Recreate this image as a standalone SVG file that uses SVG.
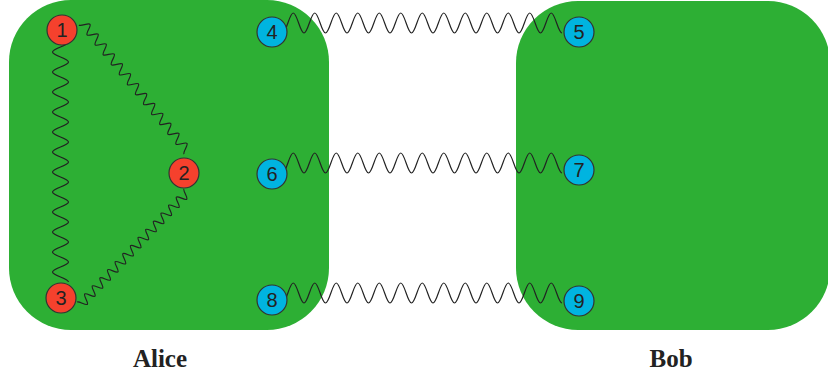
<svg xmlns="http://www.w3.org/2000/svg" width="828" height="374" viewBox="0 0 828 374">
<style>
.box{fill:#2daf34}
.wave{fill:none;stroke:#222;stroke-width:1.2}
.red{fill:#f5412d;stroke:#333;stroke-width:1.2}
.blue{fill:#00b4e0;stroke:#333;stroke-width:1.2}
.num{font-family:"Liberation Sans",Arial,sans-serif;font-size:20px;fill:#222;text-anchor:middle}
.lbl{font-family:"Liberation Serif","Times New Roman",serif;font-size:25px;font-weight:bold;fill:#222;text-anchor:middle}
</style>
<g id="alice">
<rect class="box" x="9" y="0" width="320" height="330" rx="62" ry="62"/>
<text class="lbl" x="160" y="367">Alice</text>
</g>
<g id="bob">
<rect class="box" x="516" y="1" width="314" height="329" rx="62" ry="62"/>
<text class="lbl" x="671" y="367">Bob</text>
</g>
<g id="connectors">
<path class="wave" d="M282.5 33 c3.87 0 6.88 -20 10.75 -20 s6.88 20 10.75 20 s6.88 -20 10.75 -20 s6.88 20 10.75 20 s6.88 -20 10.75 -20 s6.88 20 10.75 20 s6.88 -20 10.75 -20 s6.88 20 10.75 20 s6.88 -20 10.75 -20 s6.88 20 10.75 20 s6.88 -20 10.75 -20 s6.88 20 10.75 20 s6.88 -20 10.75 -20 s6.88 20 10.75 20 s6.88 -20 10.75 -20 s6.88 20 10.75 20 s6.88 -20 10.75 -20 s6.88 20 10.75 20 s6.88 -20 10.75 -20 s6.88 20 10.75 20 s6.88 -20 10.75 -20 s6.88 20 10.75 20 s6.88 -20 10.75 -20 s6.88 20 10.75 20 s6.88 -20 10.75 -20 s6.88 20 10.75 20"/>
<path class="wave" d="M282.5 173 c3.87 0 6.88 -20 10.75 -20 s6.88 20 10.75 20 s6.88 -20 10.75 -20 s6.88 20 10.75 20 s6.88 -20 10.75 -20 s6.88 20 10.75 20 s6.88 -20 10.75 -20 s6.88 20 10.75 20 s6.88 -20 10.75 -20 s6.88 20 10.75 20 s6.88 -20 10.75 -20 s6.88 20 10.75 20 s6.88 -20 10.75 -20 s6.88 20 10.75 20 s6.88 -20 10.75 -20 s6.88 20 10.75 20 s6.88 -20 10.75 -20 s6.88 20 10.75 20 s6.88 -20 10.75 -20 s6.88 20 10.75 20 s6.88 -20 10.75 -20 s6.88 20 10.75 20 s6.88 -20 10.75 -20 s6.88 20 10.75 20 s6.88 -20 10.75 -20 s6.88 20 10.75 20"/>
<path class="wave" d="M282.5 303 c3.87 0 6.88 -20 10.75 -20 s6.88 20 10.75 20 s6.88 -20 10.75 -20 s6.88 20 10.75 20 s6.88 -20 10.75 -20 s6.88 20 10.75 20 s6.88 -20 10.75 -20 s6.88 20 10.75 20 s6.88 -20 10.75 -20 s6.88 20 10.75 20 s6.88 -20 10.75 -20 s6.88 20 10.75 20 s6.88 -20 10.75 -20 s6.88 20 10.75 20 s6.88 -20 10.75 -20 s6.88 20 10.75 20 s6.88 -20 10.75 -20 s6.88 20 10.75 20 s6.88 -20 10.75 -20 s6.88 20 10.75 20 s6.88 -20 10.75 -20 s6.88 20 10.75 20 s6.88 -20 10.75 -20 s6.88 20 10.75 20 s6.88 -20 10.75 -20 s6.88 20 10.75 20"/>
<path class="wave" d="M68.5 42 c0 3.6 -16 6.4 -16 10 s16 6.4 16 10 s-16 6.4 -16 10 s16 6.4 16 10 s-16 6.4 -16 10 s16 6.4 16 10 s-16 6.4 -16 10 s16 6.4 16 10 s-16 6.4 -16 10 s16 6.4 16 10 s-16 6.4 -16 10 s16 6.4 16 10 s-16 6.4 -16 10 s16 6.4 16 10 s-16 6.4 -16 10 s16 6.4 16 10 s-16 6.4 -16 10 s16 6.4 16 10 s-16 6.4 -16 10 s16 6.4 16 10 s-16 6.4 -16 10 s16 6.4 16 10 s-16 6.4 -16 10 s16 6.4 16 10"/>
<path class="wave" transform="translate(79 25) rotate(50.86)" d="M0 0 c2.3 0 4.1 -9 6.4 -9 s4.1 9 6.4 9 s4.1 -9 6.4 -9 s4.1 9 6.4 9 s4.1 -9 6.4 -9 s4.1 9 6.4 9 s4.1 -9 6.4 -9 s4.1 9 6.4 9 s4.1 -9 6.4 -9 s4.1 9 6.4 9 s4.1 -9 6.4 -9 s4.1 9 6.4 9 s4.1 -9 6.4 -9 s4.1 9 6.4 9 s4.1 -9 6.4 -9 s4.1 9 6.4 9 s4.1 -9 6.4 -9 s4.1 9 6.4 9 s4.1 -9 6.4 -9 s4.1 9 6.4 9 s4.1 -9 6.4 -9 s4.1 9 6.4 9 s4.1 -9 6.4 -9 s4.1 9 6.4 9 s4.1 -9 6.4 -9 s4.1 9 6.4 9"/>
<path class="wave" transform="translate(184 189) rotate(133.4)" d="M0 0 c2 0 3.56 -9 5.56 -9 s3.56 9 5.56 9 s3.56 -9 5.56 -9 s3.56 9 5.56 9 s3.56 -9 5.56 -9 s3.56 9 5.56 9 s3.56 -9 5.56 -9 s3.56 9 5.56 9 s3.56 -9 5.56 -9 s3.56 9 5.56 9 s3.56 -9 5.56 -9 s3.56 9 5.56 9 s3.56 -9 5.56 -9 s3.56 9 5.56 9 s3.56 -9 5.56 -9 s3.56 9 5.56 9 s3.56 -9 5.56 -9 s3.56 9 5.56 9 s3.56 -9 5.56 -9 s3.56 9 5.56 9 s3.56 -9 5.56 -9 s3.56 9 5.56 9 s3.56 -9 5.56 -9 s3.56 9 5.56 9 s3.56 -9 5.56 -9 s3.56 9 5.56 9 s3.56 -9 5.56 -9 s3.56 9 5.56 9"/>
</g>
<g id="n1"><circle class="red" cx="62" cy="30" r="15"/><text class="num" x="62" y="37">1</text></g>
<g id="n2"><circle class="red" cx="184" cy="173" r="15"/><text class="num" x="184" y="180">2</text></g>
<g id="n3"><circle class="red" cx="61" cy="298" r="15"/><text class="num" x="61" y="305">3</text></g>
<g id="n4"><circle class="blue" cx="272" cy="32" r="15"/><text class="num" x="272" y="39">4</text></g>
<g id="n6"><circle class="blue" cx="272" cy="174" r="15"/><text class="num" x="272" y="181">6</text></g>
<g id="n8"><circle class="blue" cx="272" cy="300" r="15"/><text class="num" x="272" y="307">8</text></g>
<g id="n5"><circle class="blue" cx="579" cy="32" r="15"/><text class="num" x="579" y="39">5</text></g>
<g id="n7"><circle class="blue" cx="579" cy="170" r="15"/><text class="num" x="579" y="177">7</text></g>
<g id="n9"><circle class="blue" cx="579" cy="301" r="15"/><text class="num" x="579" y="308">9</text></g>
</svg>
